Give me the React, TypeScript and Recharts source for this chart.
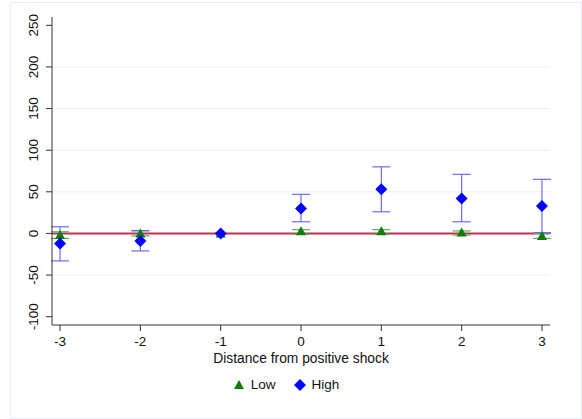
import {
  ComposedChart,
  ErrorBar,
  Legend,
  ReferenceLine,
  Scatter,
  XAxis,
  YAxis,
} from "recharts";

const positions = [-3, -2, -1, 0, 1, 2, 3];
const lowEst = [-2, 0, 0, 2.5, 2.5, 1, -3];
const lowCiLo = [-6, -3, 0, -1, -1, -2, -6];
const lowCiHi = [2, 3, 0, 4.5, 4.5, 3, 0];
const highEst = [-12, -9, 0, 30, 53, 42, 33];
const highCiLo = [-33, -21, 0, 14, 26, 14, 1];
const highCiHi = [8, 3.5, 0, 47, 80, 71, 65];

const xTicks = [-3, -2, -1, 0, 1, 2, 3];
const yTicks = [-100, -50, 0, 50, 100, 150, 200, 250];
const gridLines = [-50, 50, 100, 150, 200];

const FONT = "'Liberation Sans', Arial, sans-serif";
const GREEN = "#0b7d0b";
const BLUE = "#0000ff";

const lowData = positions.map((x, i) => ({
  x,
  y: lowEst[i],
  err: x === -1 ? null : [lowEst[i] - lowCiLo[i], lowCiHi[i] - lowEst[i]],
}));
const highData = positions.map((x, i) => ({
  x,
  y: highEst[i],
  err: x === -1 ? null : [highEst[i] - highCiLo[i], highCiHi[i] - highEst[i]],
}));

const Triangle = ({ cx, cy }: any) => (
  <path
    d={`M${cx},${cy - 5} L${cx + 5},${cy + 4} L${cx - 5},${cy + 4} Z`}
    fill={GREEN}
  />
);

const Diamond = ({ cx, cy }: any) => (
  <path
    d={`M${cx},${cy - 6} L${cx + 6},${cy} L${cx},${cy + 6} L${cx - 6},${cy} Z`}
    fill={BLUE}
  />
);

const YTick = ({ y, payload }: any) => (
  <text
    x={34}
    y={y}
    transform={`rotate(-90, 34, ${y})`}
    textAnchor="middle"
    dominantBaseline="central"
    fontSize={13.5}
    fontFamily={FONT}
    fill="#111"
  >
    {payload.value}
  </text>
);

const LegendBox = () => (
  <div
    style={{
      display: "flex",
      justifyContent: "center",
      alignItems: "center",
      width: 572,
      fontFamily: FONT,
      fontSize: 13.5,
      color: "#111",
    }}
  >
    <svg width={12} height={12} style={{ marginRight: 6 }}>
      <path d="M6,1 L11,10 L1,10 Z" fill={GREEN} />
    </svg>
    <span style={{ marginRight: 18 }}>Low</span>
    <svg width={12} height={12} style={{ marginRight: 6 }}>
      <path d="M6,0 L12,6 L6,12 L0,6 Z" fill={BLUE} />
    </svg>
    <span>High</span>
  </div>
);

export default function App() {
  return (
    <div style={{ position: "absolute", left: 0, top: 0, width: 582, height: 419, background: "#fff" }}>
      <div
        style={{
          position: "absolute",
          left: 10,
          top: 2,
          width: 570,
          height: 415,
          border: "1px solid #e6eff1",
        }}
      />
      <ComposedChart
        width={582}
        height={419}
        margin={{ top: 17, right: 32, left: 0, bottom: 54 }}
      >
        {gridLines.map((g) => (
          <ReferenceLine key={g} y={g} stroke="#e8f0f2" strokeWidth={1} />
        ))}
        <XAxis
          type="number"
          dataKey="x"
          domain={[-3.1, 3.1]}
          ticks={xTicks}
          allowDataOverflow
          height={40}
          tickSize={6}
          tickMargin={5}
          stroke="#333"
          tick={{ fontSize: 13.5, fontFamily: FONT, fill: "#111" }}
          label={{
            value: "Distance from positive shock",
            position: "insideBottom",
            offset: 2,
            fontSize: 13.8,
            fontFamily: FONT,
            fill: "#111",
          }}
        />
        <YAxis
          type="number"
          dataKey="y"
          domain={[-110, 260]}
          ticks={yTicks}
          allowDataOverflow
          width={52}
          tickSize={6}
          stroke="#333"
          tick={<YTick />}
        />
        <ReferenceLine y={0} stroke="#c2304e" strokeWidth={2} />
        <Scatter
          name="Low"
          data={lowData}
          fill={GREEN}
          shape={<Triangle />}
          isAnimationActive={false}
        >
          <ErrorBar dataKey="err" direction="y" width={9} stroke="#5ea85e" strokeWidth={1.2} />
        </Scatter>
        <Scatter
          name="High"
          data={highData}
          fill={BLUE}
          shape={<Diamond />}
          isAnimationActive={false}
        >
          <ErrorBar dataKey="err" direction="y" width={9} stroke="#6a6aff" strokeWidth={1.2} />
        </Scatter>
        <Legend
          verticalAlign="middle"
          align="center"
          layout="horizontal"
          wrapperStyle={{ top: 377, left: 0, width: 572 }}
          content={<LegendBox />}
        />
      </ComposedChart>
    </div>
  );
}
